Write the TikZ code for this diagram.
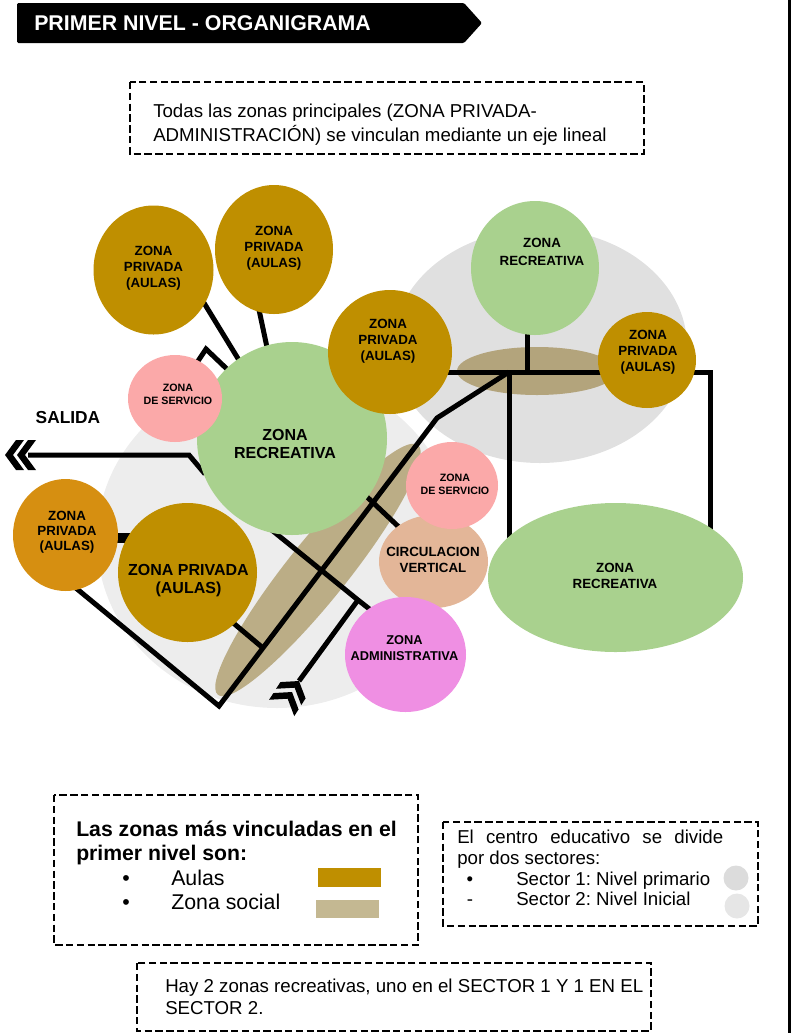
\documentclass[tikz,border=0pt]{standalone}
\usepackage{fontspec}
\setmainfont{Liberation Sans}
\usetikzlibrary{shapes.geometric}
\pgfdeclarelayer{bg}
\pgfdeclarelayer{lines}
\pgfsetlayers{bg,lines,main}
\definecolor{gold}{HTML}{BF8F00}
\definecolor{orangeau}{HTML}{D68F11}
\definecolor{greenz}{HTML}{A9D18E}
\definecolor{pinkz}{HTML}{FBA9A9}
\definecolor{peach}{HTML}{E3B698}
\definecolor{magz}{HTML}{EF8FE3}
\definecolor{tanA}{HTML}{B3A47C}
\definecolor{tanB}{HTML}{BBAD86}
\definecolor{tanL}{HTML}{C4B892}
\definecolor{greyL}{HTML}{EDEDED}
\definecolor{greyR}{HTML}{E0E0E0}
\definecolor{sec1}{HTML}{DCDCDC}
\definecolor{sec2}{HTML}{E6E6E6}
\frenchspacing
\begin{document}
\begin{tikzpicture}[x=0.75pt,y=-0.75pt,
  zone/.style 2 args={ellipse, inner sep=0pt, minimum width=#1*0.75pt, minimum height=#2*0.75pt},
  zt/.style={font=\bfseries\fontsize{10}{12.2}\selectfont, align=center, inner sep=0pt},
  zts/.style={font=\bfseries\fontsize{8}{9.75}\selectfont, align=center, inner sep=0pt},
  ztb/.style={font=\bfseries\fontsize{12}{13.5}\selectfont, align=center, inner sep=0pt},
  conn/.style={line width=3.75pt},
  dbox/.style={line width=1.9pt, dash pattern=on 5.5pt off 2.6pt},
  txt/.style={anchor=base west, inner sep=0pt},
  chevron/.pic={\fill[black] (0,0) -- (-11,-15) -- (-19,-15) -- (-8,0) -- (-19,15) -- (-11,15) -- cycle;}
]
\useasboundingbox (0,0) rectangle (791,1033);

% right border
\draw[line width=2.25pt] (789,0) -- (789,1033);

% title banner
\fill[black, rounded corners=1pt] (17,3) -- (464,3) -- (482,23) -- (464,43) -- (17,43) -- cycle;
\node[anchor=west, inner sep=0pt, text=white, font=\bfseries\fontsize{16}{19}\selectfont] (title) at (34,23.5) {PRIMER NIVEL - ORGANIGRAMA};

% top note
\draw[dbox] (130,82) rectangle (644,154);
\node[txt, font=\fontsize{14}{17}\selectfont] (n1) at (153,117.5) {Todas las zonas principales (ZONA PRIVADA-};
\node[txt, font=\fontsize{14}{17}\selectfont] (n2) at (153,141) {ADMINISTRACIÓN) se vinculan mediante un eje lineal};

% sector backgrounds and social zones
\begin{pgfonlayer}{bg}
\fill[greyL] (277,540) ellipse [x radius=180, y radius=168];
\fill[greyR] (540,346) ellipse [x radius=147, y radius=117];
\fill[tanA] (537,371) ellipse [x radius=80, y radius=24];
\fill[tanB, rotate around={51.3:(318,570)}] (318,570) ellipse [x radius=160, y radius=30];
\end{pgfonlayer}

% zones
\node[zone={190}{193}, fill=greenz] (rBig) at (292,438.5) {};
\node[zone={94}{87}, fill=pinkz] (sL) at (175,398.5) {};
\node[zone={124}{124}, fill=gold] (pM) at (390,352) {};
\node[zone={120}{129}, fill=gold] (pTL) at (153.5,270) {};
\node[zone={118}{129}, fill=gold] (pTC) at (274,249.5) {};
\node[zone={98}{96}, fill=gold] (pR) at (647,360) {};
\node[zone={128}{134}, fill=greenz] (rTR) at (535,268) {};
\node[zone={139}{139}, fill=gold] (pBig) at (187.5,572.5) {};
\node[zone={105}{112}, fill=orangeau] (pL) at (65.5,535) {};
\node[zone={109}{93}, fill=peach] (cV) at (433.5,561.5) {};
\node[zone={92}{87}, fill=pinkz] (sR) at (452,485.5) {};
\node[zone={121}{115}, fill=magz] (adm) at (405.5,654.5) {};
\node[zone={255}{149}, fill=greenz] (rBR) at (615.5,577.5) {};

\node[zt] (pTL-t) at (153.5,268) {ZONA\\PRIVADA\\(AULAS)};
\node[zt] (pTC-t) at (274,248) {ZONA\\PRIVADA\\(AULAS)};
\node[zt] (pM-t) at (388,341) {ZONA\\PRIVADA\\(AULAS)};
\node[zt] (pR-t) at (648,352) {ZONA\\PRIVADA\\(AULAS)};
\node[zt, font=\bfseries\fontsize{10}{13.5}\selectfont] (rTR-t) at (542,252) {ZONA\\RECREATIVA};
\node[zts] (sL-t) at (178,394) {ZONA\\DE SERVICIO};
\node[ztb] (rBig-t) at (285,444) {ZONA\\RECREATIVA};
\node[zts] (sR-t) at (455,484) {ZONA\\DE SERVICIO};
\node[zt, font=\bfseries\fontsize{10}{12}\selectfont] (cV-t) at (433,560) {CIRCULACION\\VERTICAL};
\node[zt, font=\bfseries\fontsize{9.6}{12}\selectfont] (adm-t) at (404.5,648) {ZONA\\ADMINISTRATIVA};
\node[zt, font=\bfseries\fontsize{10}{12}\selectfont] (rBR-t) at (615,576) {ZONA\\RECREATIVA};
\node[zt, font=\bfseries\fontsize{10}{11.25}\selectfont] (pL-t) at (67,532) {ZONA\\PRIVADA\\(AULAS)};
\node[ztb] (pBig-t) at (188.5,581) {ZONA PRIVADA\\(AULAS)};

\node[font=\bfseries\fontsize{13}{15}\selectfont, inner sep=0pt] (salida) at (68,418) {SALIDA};

% connector points
\coordinate (c1a) at (201,298); \coordinate (c1b) at (245,370);
\coordinate (c2a) at (258,305); \coordinate (c2b) at (268,352);
\coordinate (c3a) at (194,367); \coordinate (c3m) at (206,349); \coordinate (c3b) at (229,371);
\coordinate (c4a) at (205,474); \coordinate (c4m) at (189,455); \coordinate (c4b) at (28,455);
\coordinate (c5a) at (112,538); \coordinate (c5b) at (135,538);
\coordinate (c6a) at (71,584); \coordinate (J1) at (219,706); \coordinate (J2) at (437,418); \coordinate (J3) at (509,372);
\coordinate (c7a) at (225,616); \coordinate (A1) at (263,648);
\coordinate (c8a) at (268,527); \coordinate (X) at (358,600); \coordinate (c8b) at (372,611);
\coordinate (E) at (299,681);
\coordinate (c10a) at (365,495); \coordinate (c10b) at (402,530);
\coordinate (c11a) at (440,372); \coordinate (J4) at (710,372); \coordinate (c11b) at (710,535);
\coordinate (c12a) at (527,330); \coordinate (J5) at (527,372);
\coordinate (c13b) at (509,545);

\begin{pgfonlayer}{lines}
\draw[conn] (c1a) -- (c1b);
\draw[conn] (c2a) -- (c2b);
\draw[conn, miter limit=10] (c3a) -- (c3m) -- (c3b);
\draw[conn] (c4a) -- (c4m) -- (c4b);
\draw[line width=7.5pt] (c5a) -- (c5b);
\draw[conn] (c6a) -- (J1) -- (J2) -- (J3);
\draw[conn] (c7a) -- (A1);
\draw[conn] (c8a) -- (X) -- (c8b);
\draw[conn] (X) -- (E);
\draw[conn] (c10a) -- (c10b);
\draw[conn] (c11a) -- (J4) -- (c11b);
\draw[conn] (c12a) -- (J5);
\draw[conn] (J3) -- (c13b);
\end{pgfonlayer}

% arrow chevrons
\path (5,455) pic[rotate=180] {chevron};
\path (17,455) pic[rotate=180] {chevron};
\path (E) pic[rotate=57] {chevron};
\path (292,692) pic[rotate=57] {chevron};

% legend 1
\draw[dbox] (54,795) rectangle (418,945);
\node[txt, font=\bfseries\fontsize{15.9}{18}\selectfont] (l1) at (76,836) {Las zonas más vinculadas en el};
\node[txt, font=\bfseries\fontsize{15.9}{18}\selectfont] (l2) at (76,860) {primer nivel son:};
\node[anchor=base, inner sep=0pt, font=\fontsize{16}{18}\selectfont] (b1) at (126,885.5) {•};
\node[txt, font=\fontsize{16}{18}\selectfont] (l3) at (171,885.5) {Aulas};
\node[anchor=base, inner sep=0pt, font=\fontsize{16}{18}\selectfont] (b2) at (126,909.5) {•};
\node[txt, font=\fontsize{16}{18}\selectfont] (l4) at (171,909.5) {Zona social};
\fill[gold] (318,868) rectangle (381,887);
\fill[tanL] (316,900) rectangle (379,918);

% legend 2
\draw[dbox] (443,822) rectangle (758,926);
\node[txt, font=\fontsize{14}{17}\selectfont] (s1) at (457,843.5) {\makebox[199.5pt][s]{El centro educativo se divide}};
\node[txt, font=\fontsize{14}{17}\selectfont] (s2) at (457,864.5) {por dos sectores:};
\node[anchor=base, inner sep=0pt, font=\fontsize{14}{17}\selectfont] (b3) at (470,885.5) {•};
\node[txt, font=\fontsize{14}{17}\selectfont] (s3) at (516,885.5) {Sector 1: Nivel primario};
\node[anchor=base, inner sep=0pt, font=\fontsize{14}{17}\selectfont] (b4) at (470,905.5) {-};
\node[txt, font=\fontsize{14}{17}\selectfont] (s4) at (516,905.5) {Sector 2: Nivel Inicial};
\fill[sec1] (736,878) circle [radius=12.5];
\fill[sec2] (737,906) circle [radius=12.5];

% note 3
\draw[dbox] (137,963) rectangle (651,1031);
\node[txt, font=\fontsize{14}{17}\selectfont] (h1) at (165,992.5) {Hay 2 zonas recreativas, uno en el SECTOR 1 Y 1 EN EL};
\node[txt, font=\fontsize{14}{17}\selectfont] (h2) at (165,1014.5) {SECTOR 2.};
\end{tikzpicture}
\end{document}
